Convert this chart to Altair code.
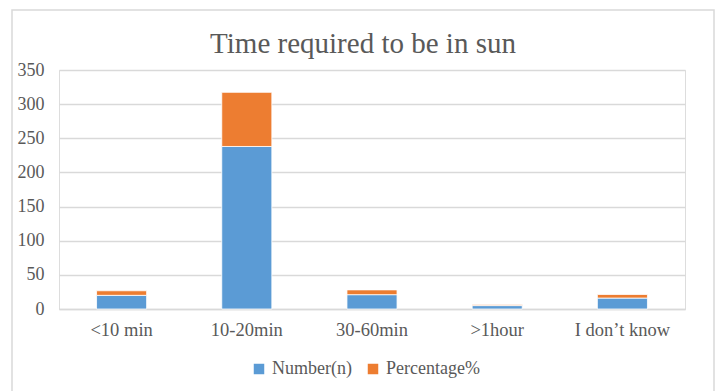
import altair as alt
import pandas as pd

# Survey answers: how long one needs to stay in the sun
categories = ["<10 min", "10-20min", "30-60min", ">1hour", "I don\u2019t know"]
number_n = [20, 238, 21, 5, 16]
percentage = [6.7, 79.3, 7.0, 1.7, 5.3]
series = ["Number(n)", "Percentage%"]
y_ticks = [0, 50, 100, 150, 200, 250, 300, 350]
chart_title = "Time required to be in sun"

rows = []
for cat, n, p in zip(categories, number_n, percentage):
    rows.append({"category": cat, "series": series[0], "value": n, "order": 0})
    rows.append({"category": cat, "series": series[1], "value": p, "order": 1})
df = pd.DataFrame(rows)

FONT = "Liberation Serif"
GREY = "#595959"
LINE = "#d9d9d9"

bars = alt.Chart(df).mark_bar(stroke="white", strokeWidth=0.8).encode(
    x=alt.X(
        "category:N",
        sort=categories,
        title=None,
        scale=alt.Scale(paddingInner=0.6, paddingOuter=0.3),
        axis=alt.Axis(
            labelAngle=0, labelFont=FONT, labelFontSize=18.5, labelColor=GREY,
            labelPadding=11, ticks=False, domainColor=LINE, domainWidth=1.5,
            grid=False,
        ),
    ),
    y=alt.Y(
        "value:Q",
        stack="zero",
        title=None,
        scale=alt.Scale(domain=[0, 350], nice=False),
        axis=alt.Axis(
            values=y_ticks, labelFont=FONT, labelFontSize=18, labelColor=GREY,
            labelPadding=15, ticks=False, domain=False, gridColor=LINE,
            gridWidth=1.5,
        ),
    ),
    color=alt.Color(
        "series:N",
        scale=alt.Scale(domain=series, range=["#5b9bd5", "#ed7d31"]),
        legend=alt.Legend(
            title=None, orient="none", legendX=191, legendY=290,
            direction="horizontal", symbolType="square", symbolSize=110,
            symbolStrokeWidth=0, labelFont=FONT, labelFontSize=18,
            labelColor=GREY, columnPadding=12, labelOffset=4,
        ),
    ),
    order=alt.Order("order:Q"),
)

single = pd.DataFrame({"title": [chart_title]})

# Outer frame around the chart
frame = alt.Chart(single).mark_rect(
    filled=False, stroke=LINE, strokeWidth=1.5
).encode(
    x=alt.value(-47), x2=alt.value(655), y=alt.value(-60), y2=alt.value(340)
)

# Chart heading
heading = alt.Chart(single).mark_text(
    font=FONT, fontSize=29, color=GREY, align="center", baseline="middle"
).encode(text="title:N", x=alt.value(304), y=alt.value(-26))

chart = alt.layer(frame, heading, bars).properties(
    width=626,
    height=239,
    padding={"left": 59, "top": 70, "right": 36, "bottom": 82},
    autosize=alt.AutoSizeParams(type="none"),
).configure_view(stroke=None).configure(background="white")

chart.save("out.html", embed_options={"renderer": "svg", "actions": False})
